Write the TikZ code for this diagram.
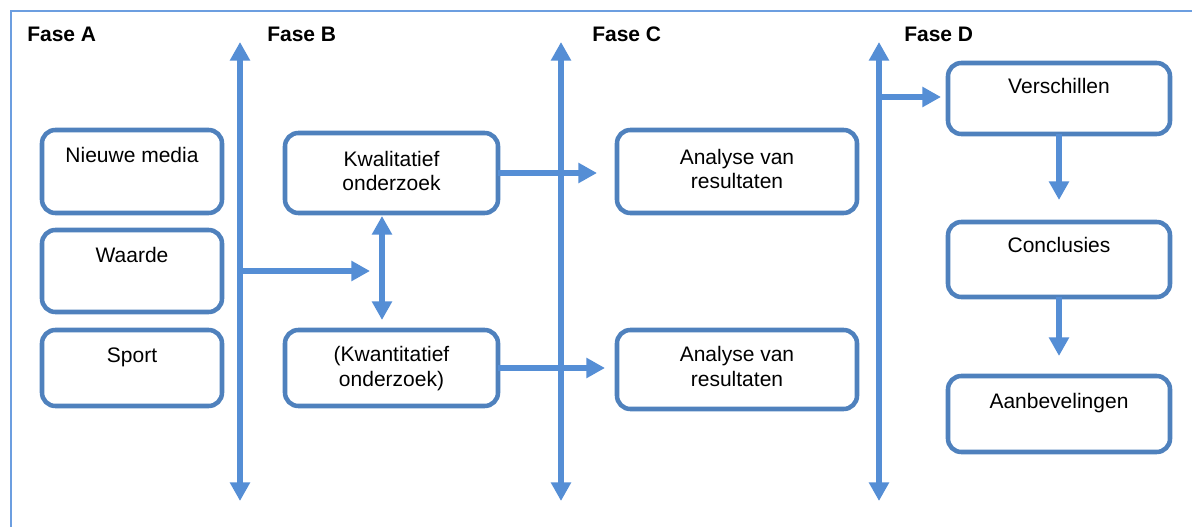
\documentclass[tikz,border=0pt]{standalone}
\usepackage{fontspec}
\setmainfont{Liberation Sans}
\usetikzlibrary{arrows.meta,calc}
\definecolor{boxblue}{HTML}{4F81BD}
\definecolor{arrowblue}{HTML}{558ED5}
\definecolor{frameblue}{HTML}{6C9EE0}

% a rounded box with its text set near the top edge;
% #7 is the distance from the top edge to the baseline of the last text line
\newcommand{\flowbox}[7]{%
  \node[box, minimum width={(#4-#2)*0.75pt}, minimum height={(#5-#3)*0.75pt}]
    (#1) at ({(#2+#4)/2},{(#3+#5)/2}) {};
  \node[txt] (#1-t) at ($(#1.north)+(0,#7)$) {#6};
}

\begin{document}
\begin{tikzpicture}[x=0.75pt,y=-0.75pt,
  box/.style={draw=boxblue, line width=3.4pt, rounded corners=10pt, fill=white, inner sep=0pt, outer sep=0pt},
  txt/.style={anchor=base, font=\fontsize{15.75}{18.4}\selectfont, align=center, inner sep=0pt},
  phase/.style={anchor=base west, font=\fontsize{15.75}{18}\selectfont\bfseries, inner sep=0pt},
  tip/.tip={Triangle[width=14.5pt,length=14pt]},
  flow/.style={draw=arrowblue, line width=3.8pt, -tip},
  both/.style={draw=arrowblue, line width=3.8pt, tip-tip},
]
\useasboundingbox (0,0) rectangle (1192,527);

% outer frame
\draw[frameblue, line width=1.2pt] (11,540) -- (11,11) -- (1200,11);

% phase headings
\node[phase] (fa) at (27,42) {Fase A};
\node[phase] (fb) at (267,42) {Fase B};
\node[phase] (fc) at (592,42) {Fase C};
\node[phase] (fd) at (904,42) {Fase D};

% phase A
\flowbox{media}{42}{130}{222}{213}{Nieuwe media}{33}
\flowbox{waarde}{42}{230}{222}{312}{Waarde}{33}
\flowbox{sport}{42}{330}{222}{406}{Sport}{32}

% phase B
\flowbox{kwal}{285}{133}{498}{213}{Kwalitatief\\onderzoek}{58}
\flowbox{kwan}{285}{330}{498}{406}{(Kwantitatief\\onderzoek)}{56}

% phase C
\flowbox{anaA}{617}{130}{857}{213}{Analyse van\\resultaten}{59}
\flowbox{anaB}{617}{330}{857}{409}{Analyse van\\resultaten}{56}

% phase D
\flowbox{vers}{948}{63}{1170}{134}{Verschillen}{31}
\flowbox{concl}{948}{222}{1170}{297}{Conclusies}{31}
\flowbox{aanb}{948}{376}{1170}{452}{Aanbevelingen}{32}

% phase dividers
\coordinate (ab-top) at (240,42);
\coordinate (ab-bot) at (240,501);
\coordinate (bc-top) at (561,42);
\coordinate (bc-bot) at (561,501);
\coordinate (cd-top) at (879,42);
\coordinate (cd-bot) at (879,501);
\draw[both] (ab-bot) -- (ab-top);
\draw[both] (bc-bot) -- (bc-top);
\draw[both] (cd-bot) -- (cd-top);

% connectors
\coordinate (ab-out) at (240,271);
\coordinate (b-in) at (370,271);
\draw[flow] (ab-out) -- (b-in);

\coordinate (kk-top) at (382,216);
\coordinate (kk-bot) at (382,320);
\draw[both] (kk-bot) -- (kk-top);

\coordinate (anaA-in) at (597,173);
\draw[flow] (kwal.east) -- (anaA-in);
\coordinate (anaB-in) at (605,368);
\draw[flow] (kwan.east) -- (anaB-in);

\coordinate (cd-out) at (879,97);
\coordinate (vers-in) at (941,97);
\draw[flow] (cd-out) -- (vers-in);

\coordinate (concl-in) at (1059,200);
\draw[flow] (vers.south) -- (concl-in);
\coordinate (aanb-in) at (1059,356);
\draw[flow] (concl.south) -- (aanb-in);
\end{tikzpicture}
\end{document}
